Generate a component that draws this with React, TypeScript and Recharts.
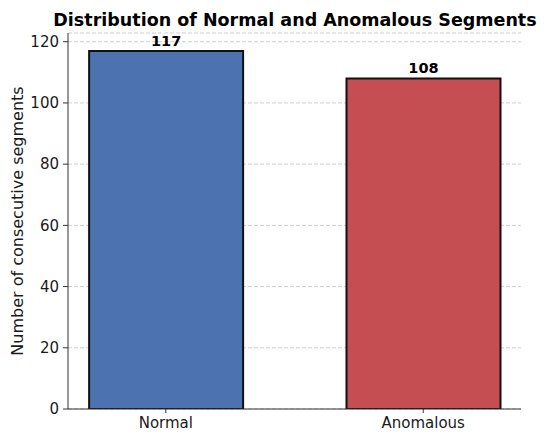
import React from 'react';
import { BarChart, Bar, XAxis, YAxis, CartesianGrid, LabelList, Cell } from 'recharts';

const categories = ['Normal', 'Anomalous'];
const counts = [117, 108];
const barColors = ['#4c72b0', '#c44e52'];
const yTicks = [0, 20, 40, 60, 80, 100, 120];

const data = categories.map((name, i) => ({ x: i, name, value: counts[i] }));

const font = '"DejaVu Sans", sans-serif';

export default function App() {
  return (
    <div style={{ position: 'absolute', left: 0, top: 0, width: 550, height: 441, background: '#fff' }}>
      <BarChart width={550} height={441} data={data} margin={{ top: 33, right: 29, left: 0, bottom: 0 }}>
        <text x={295} y={26} textAnchor="middle" fontFamily={font} fontWeight="bold" fontSize={17.5} fill="#000">
          Distribution of Normal and Anomalous Segments
        </text>
        <text
          x={23}
          y={221}
          transform="rotate(-90, 23, 221)"
          textAnchor="middle"
          fontFamily={font}
          fontSize={16}
          fill="#1a1a1a"
        >
          Number of consecutive segments
        </text>
        <CartesianGrid vertical={false} stroke="#cfcfcf" strokeDasharray="4 2" />
        <XAxis
          type="number"
          dataKey="x"
          domain={[-0.38, 1.38]}
          ticks={[0, 1]}
          tickFormatter={(v: number) => categories[v] ?? ''}
          height={32}
          stroke="#333"
          tickSize={4}
          tickMargin={4}
          tick={{ fontFamily: font, fontSize: 15, fill: '#1a1a1a' }}
          allowDataOverflow
        />
        <YAxis
          type="number"
          domain={[0, 122.85]}
          ticks={yTicks}
          width={68}
          stroke="#333"
          tickSize={5}
          tickMargin={4}
          tick={{ fontFamily: font, fontSize: 15, fill: '#1a1a1a' }}
          allowDataOverflow
        />
        <Bar dataKey="value" barSize={154} stroke="#111" strokeWidth={2} isAnimationActive={false}>
          {data.map((d, i) => (
            <Cell key={d.name} fill={barColors[i]} />
          ))}
          <LabelList
            dataKey="value"
            position="top"
            offset={5}
            style={{ fontFamily: font, fontWeight: 'bold', fontSize: 14.5, fill: '#000' }}
          />
        </Bar>
      </BarChart>
    </div>
  );
}
